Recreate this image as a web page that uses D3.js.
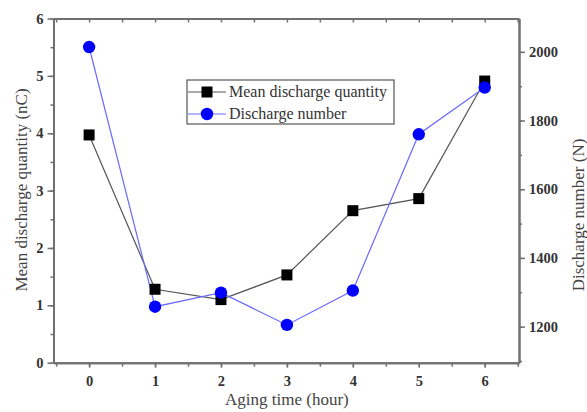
<!DOCTYPE html>
<html><head><meta charset="utf-8">
<script src="https://cdn.jsdelivr.net/npm/d3@7"></script>
<style>body{margin:0;background:#fff}svg{display:block}</style>
</head><body>
<script>
const hours = [0, 1, 2, 3, 4, 5, 6];
const meanQuantity = [3.97, 1.28, 1.10, 1.53, 2.65, 2.86, 4.91];
const dischargeNumber = [2014, 1258, 1299, 1205, 1305, 1760, 1896];
const xTicks = [0, 1, 2, 3, 4, 5, 6];
const leftTicks = [0, 1, 2, 3, 4, 5, 6];
const rightTicks = [1200, 1400, 1600, 1800, 2000];
const legendLabels = ["Mean discharge quantity", "Discharge number"];

const W = 587, H = 412;
const m = {l: 53.5, r: 519, t: 18.5, b: 362.7};
const svg = d3.select("body").append("svg").attr("width", W).attr("height", H);
const x = d3.scaleLinear().domain([-0.54, 6.52]).range([m.l, m.r]);
const yL = d3.scaleLinear().domain([0, 6]).range([m.b, m.t]);
const yR = d3.scaleLinear().domain([1095, 2097]).range([m.b, m.t]);

const axisCol = "#707070";
const font = "Liberation Serif, Times New Roman, serif";

function styleAxis(g) {
  g.select(".domain").attr("stroke", axisCol).attr("stroke-width", 2);
  g.selectAll(".tick line").attr("stroke", axisCol).attr("stroke-width", 1.5);
  g.selectAll("text").attr("font-family", font).attr("font-size", 14.5).attr("font-weight", "bold").attr("fill", "#333");
}
const minorX = d3.range(-0.5, 6.6, 0.5);
// bottom axis
svg.append("g").attr("transform", `translate(0,${m.b})`)
  .call(d3.axisBottom(x).tickValues(minorX).tickSizeOuter(0).tickSizeInner(4).tickFormat(""))
  .call(styleAxis);
svg.append("g").attr("transform", `translate(0,${m.b})`)
  .call(d3.axisBottom(x).tickValues(xTicks).tickSizeOuter(0).tickSizeInner(5).tickPadding(8).tickFormat(d3.format("d")))
  .call(styleAxis);
// top axis (inward ticks)
svg.append("g").attr("transform", `translate(0,${m.t})`)
  .call(d3.axisBottom(x).tickValues(minorX).tickSizeOuter(0).tickSizeInner(4).tickFormat(""))
  .call(styleAxis);
// left axis
svg.append("g").attr("transform", `translate(${m.l},0)`)
  .call(d3.axisLeft(yL).tickValues(d3.range(0, 6.01, 0.5)).tickSizeOuter(0).tickSizeInner(3).tickFormat(""))
  .call(styleAxis);
svg.append("g").attr("transform", `translate(${m.l},0)`)
  .call(d3.axisLeft(yL).tickValues(leftTicks).tickSizeOuter(0).tickSizeInner(6).tickPadding(4).tickFormat(d3.format("d")))
  .call(styleAxis);
// right axis
svg.append("g").attr("transform", `translate(${m.r},0)`)
  .call(d3.axisRight(yR).tickValues(d3.range(1100, 2100, 100)).tickSizeOuter(0).tickSizeInner(3).tickFormat(""))
  .call(styleAxis);
svg.append("g").attr("transform", `translate(${m.r},0)`)
  .call(d3.axisRight(yR).tickValues(rightTicks).tickSizeOuter(0).tickSizeInner(6).tickPadding(4).tickFormat(d3.format("d")))
  .call(styleAxis);

// axis titles
svg.append("text").attr("x", x(3)).attr("y", 405).attr("text-anchor", "middle")
  .attr("font-family", font).attr("font-size", 17).attr("fill", "#444").text("Aging time (hour)");
svg.append("text").attr("transform", `translate(27,190) rotate(-90)`).attr("text-anchor", "middle")
  .attr("font-family", font).attr("font-size", 17).attr("fill", "#444").text("Mean discharge quantity (nC)");
svg.append("text").attr("transform", `translate(584,215) rotate(-90)`).attr("text-anchor", "middle")
  .attr("font-family", font).attr("font-size", 17).attr("fill", "#444").text("Discharge number (N)");

// series
const blackLine = d3.line().x((d, i) => x(hours[i])).y(d => yL(d));
const blueLine = d3.line().x((d, i) => x(hours[i])).y(d => yR(d));
svg.append("path").datum(meanQuantity).attr("d", blackLine).attr("fill", "none").attr("stroke", "#555").attr("stroke-width", 1.2);
svg.append("path").datum(dischargeNumber).attr("d", blueLine).attr("fill", "none").attr("stroke", "#6a6aff").attr("stroke-width", 1.2);
const sq = 11;
svg.selectAll(".sq").data(meanQuantity).enter().append("rect")
  .attr("x", (d, i) => x(hours[i]) - sq / 2).attr("y", d => yL(d) - sq / 2)
  .attr("width", sq).attr("height", sq).attr("fill", "#000");
svg.selectAll(".ci").data(dischargeNumber).enter().append("circle")
  .attr("cx", (d, i) => x(hours[i])).attr("cy", d => yR(d)).attr("r", 6.2).attr("fill", "#0000ff");

// legend
const lg = svg.append("g");
lg.append("rect").attr("x", 187).attr("y", 80).attr("width", 207).attr("height", 44)
  .attr("fill", "#fff").attr("stroke", "#555").attr("stroke-width", 1.2);
const legColors = [{line: "#555", mark: "sq"}, {line: "#6a6aff", mark: "ci"}];
legendLabels.forEach((lab, i) => {
  const yy = 92 + i * 22;
  lg.append("line").attr("x1", 188).attr("x2", 226).attr("y1", yy).attr("y2", yy).attr("stroke", legColors[i].line).attr("stroke-width", 1.2);
  if (legColors[i].mark === "sq") lg.append("rect").attr("x", 207 - 5.5).attr("y", yy - 5.5).attr("width", 11).attr("height", 11).attr("fill", "#000");
  else lg.append("circle").attr("cx", 207).attr("cy", yy).attr("r", 6.2).attr("fill", "#0000ff");
  lg.append("text").attr("x", 229).attr("y", yy + 5).attr("font-family", font).attr("font-size", 16).attr("fill", "#333").text(lab);
});
</script>
</body></html>
